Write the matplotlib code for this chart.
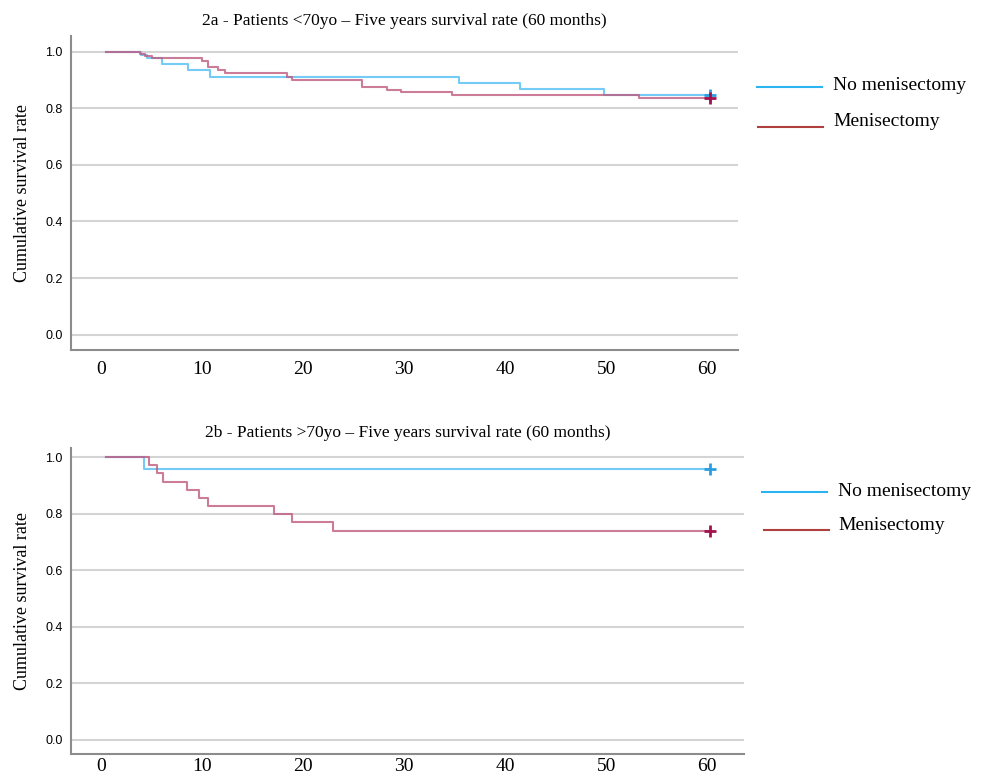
import matplotlib
matplotlib.use("Agg")
import matplotlib.pyplot as plt
from matplotlib.lines import Line2D

# Kaplan-Meier steps (months, cumulative survival)
top_no_t = [0.5, 4.0, 4.5, 6.0, 8.6, 10.8, 35.4, 41.5, 49.8, 60.3]
top_no_s = [1.0, 0.989, 0.976, 0.958, 0.934, 0.912, 0.890, 0.868, 0.847, 0.847]
top_me_t = [0.5, 3.9, 4.4, 5.0, 10.0, 10.6, 11.6, 12.3, 18.4, 18.9, 25.8, 28.3, 29.7, 34.7, 53.3, 60.3]
top_me_s = [1.0, 0.992, 0.985, 0.978, 0.968, 0.947, 0.935, 0.924, 0.912, 0.900, 0.876, 0.865, 0.857, 0.847, 0.835, 0.835]

bot_no_t = [0.5, 4.3, 60.3]
bot_no_s = [1.0, 0.957, 0.957]
bot_me_t = [0.5, 4.7, 5.5, 6.1, 8.5, 9.7, 10.6, 17.1, 18.9, 23.0, 60.3]
bot_me_s = [1.0, 0.973, 0.943, 0.913, 0.883, 0.856, 0.827, 0.800, 0.770, 0.740, 0.740]

titles = ["2a - Patients <70yo \u2013 Five years survival rate (60 months)",
          "2b - Patients >70yo \u2013 Five years survival rate (60 months)"]
labels = ["No menisectomy", "Menisectomy"]

serif = ["Liberation Serif", "DejaVu Serif"]
blue, red = "#5cc3f5", "#c05a80"
blue_c, red_c = "#2a9fe0", "#a3124c"

fig = plt.figure(figsize=(9.84, 7.79), dpi=100)
ax1 = fig.add_axes([0.0722, 0.5507, 0.678, 0.403])
ax2 = fig.add_axes([0.0722, 0.0321, 0.684, 0.3928])

panels = [
    (ax1, top_no_t, top_no_s, top_me_t, top_me_s, (-0.054, 1.055), 63.07, 8),
    (ax2, bot_no_t, bot_no_s, bot_me_t, bot_me_s, (-0.051, 1.033), 63.66, 3),
]

for i, (ax, nt, ns, mt, ms, ylim, xmax, xpad) in enumerate(panels):
    ax.step(nt, ns, where="post", color=blue, lw=1.5, alpha=0.85, zorder=3)
    ax.step(mt, ms, where="post", color=red, lw=1.5, alpha=0.8, zorder=3)
    ax.plot(nt[-1], ns[-1], "+", color=blue_c, ms=9, mew=2, zorder=4)
    ax.plot(mt[-1], ms[-1], "+", color=red_c, ms=9, mew=2, zorder=4)
    ax.set_xlim(-2.97, xmax)
    ax.set_ylim(*ylim)
    ax.set_xticks([0, 10, 20, 30, 40, 50, 60])
    ax.set_yticks([0.0, 0.2, 0.4, 0.6, 0.8, 1.0])
    ax.set_yticklabels(["0.0", "0.2", "0.4", "0.6", "0.8", "1.0"],
                       family="Liberation Sans", fontsize=9)
    for t in ax.get_xticklabels():
        t.set_family(serif)
        t.set_fontsize(14)
    ax.tick_params(length=0, pad=6)
    ax.tick_params(axis="x", pad=xpad)
    ax.grid(axis="y", color="#d4d4d4", lw=1.5)
    ax.set_axisbelow(True)
    for s in ["top", "right"]:
        ax.spines[s].set_visible(False)
    for s in ["left", "bottom"]:
        ax.spines[s].set_color("#8c8c8c")
        ax.spines[s].set_linewidth(1.5)
    ax.set_ylabel("Cumulative survival rate", family=serif, fontsize=13, labelpad=10)
    ax.set_title(titles[i], family=serif, fontsize=12.5, pad=8)

# legends placed outside, to the right of each panel
leg_pos = [((757, 822, 87), (758, 823, 127), 833, 86, 122),
           ((762, 827, 492), (764, 829, 530), 838, 491, 526)]
W, H = 984, 779
for (b, r, tx, ty1, ty2) in leg_pos:
    fig.add_artist(Line2D([b[0] / W, b[1] / W], [1 - b[2] / H] * 2, color="#2bb5f0", lw=1.5))
    fig.add_artist(Line2D([r[0] / W, r[1] / W], [1 - r[2] / H] * 2, color="#b0403e", lw=1.5))
    fig.text(tx / W, 1 - ty1 / H, labels[0], family=serif, fontsize=14, va="center")
    fig.text(tx / W, 1 - ty2 / H, labels[1], family=serif, fontsize=14, va="center")

fig.savefig("out.png", dpi=100)
